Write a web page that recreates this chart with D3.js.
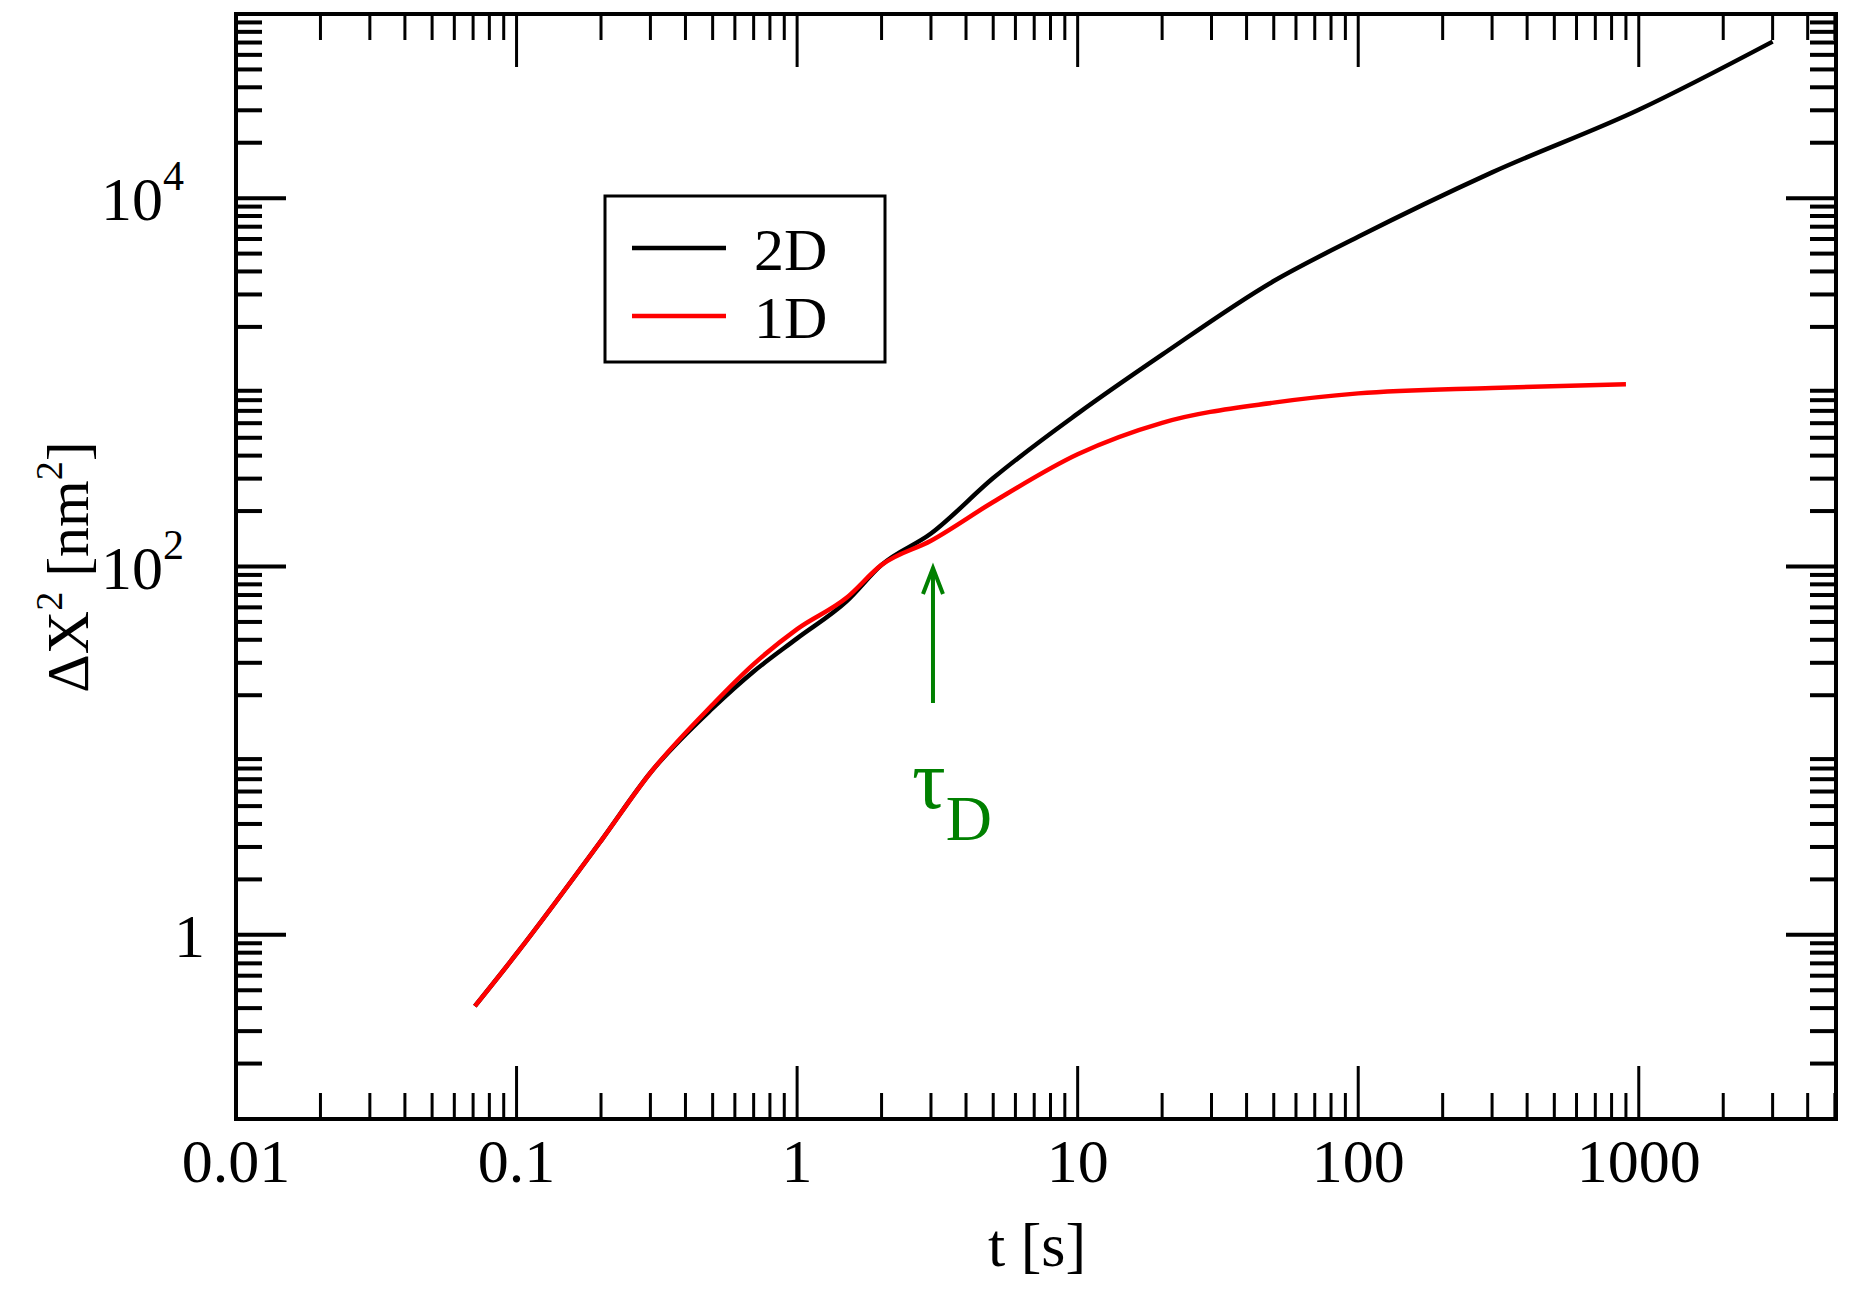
<!DOCTYPE html>
<html><head><meta charset="utf-8">
<script src="https://cdn.jsdelivr.net/npm/d3@7"></script>
<style>body{margin:0;background:#fff}text{font-family:"Liberation Serif","Times New Roman",serif}</style>
</head><body><svg id="c" width="1852" height="1290"></svg>
<script>
const xTickLabels=["0.01","0.1","1","10","100","1000"];
const yTickValues=[1,100,10000];
const t2D=[0.071,0.1,0.2,0.3,0.5,0.7,1,1.5,2,3,5,10,20,50,100,300,1000,3000];
const msd2D=[0.41,0.79,3.24,7.59,17.0,26.9,40.7,64.6,102,151,302,676,1413,3548,6166,13800,30200,70800];
const t1D=[0.071,0.1,0.2,0.3,0.5,0.7,1,1.5,2,3,5,10,20,50,100,300,900];
const msd1D=[0.41,0.79,3.24,7.59,17.8,29.5,45.7,67.6,102,138,224,407,603,776,871,933,977];
const legendLabels=["2D","1D"];
const colors=["#000000","#ff0000"];

const svg=d3.select("#c");
const L=236,R=1836,T=14,B=1119;
const x=d3.scaleLog().domain([0.01,Math.pow(10,3.703)]).range([L,R]);
const y=d3.scaleLog().domain([0.1,1e5]).range([B,T]);
const g=svg.append("g");
const xMinor=[],yMinor=[];
for(let e=-2;e<=3;e++)for(let k=2;k<=9;k++){const v=k*Math.pow(10,e);if(v<=x.domain()[1])xMinor.push(v);}
for(let e=-1;e<=4;e++)for(let k=2;k<=9;k++)yMinor.push(k*Math.pow(10,e));
const xMajor=[0.01,0.1,1,10,100,1000];
const sw=4;
function tick(x1,y1,x2,y2,w){g.append("line").attr("x1",x1).attr("y1",y1).attr("x2",x2).attr("y2",y2).attr("stroke","#000").attr("stroke-width",w);}
xMinor.forEach(v=>{const p=x(v);tick(p,B,p,B-26,3);tick(p,T,p,T+26,3);});
xMajor.forEach(v=>{const p=x(v);tick(p,B,p,B-53,3);tick(p,T,p,T+53,3);});
yMinor.forEach(v=>{const p=y(v);tick(L,p,L+26,p,sw);tick(R,p,R-26,p,sw);});
yTickValues.forEach(v=>{const p=y(v);tick(L,p,L+50,p,sw);tick(R,p,R-50,p,sw);});
const line=d3.line().x(d=>x(d[0])).y(d=>y(d[1])).curve(d3.curveMonotoneX);
g.append("path").attr("d",line(t2D.map((t,i)=>[t,msd2D[i]]))).attr("fill","none").attr("stroke",colors[0]).attr("stroke-width",4.5);
g.append("path").attr("d",line(t1D.map((t,i)=>[t,msd1D[i]]))).attr("fill","none").attr("stroke",colors[1]).attr("stroke-width",4.5);
g.append("rect").attr("x",L).attr("y",T).attr("width",R-L).attr("height",B-T).attr("fill","none").attr("stroke","#000").attr("stroke-width",sw);
xMajor.forEach((v,i)=>g.append("text").attr("x",x(v)).attr("y",1182).attr("text-anchor","middle").attr("font-size",62).text(xTickLabels[i]));
const yl=[["1",""],["10","2"],["10","4"]];
yTickValues.forEach((v,i)=>{const tx=g.append("text").attr("x",yl[i][1]?184:205).attr("y",y(v)+22).attr("text-anchor","end").attr("font-size",62);
 tx.append("tspan").text(yl[i][0]); if(yl[i][1]) tx.append("tspan").attr("dy",-30).attr("font-size",42).text(yl[i][1]);});
g.append("text").attr("x",1037).attr("y",1266).attr("text-anchor","middle").attr("font-size",62).text("t [s]");
const yt=g.append("text").attr("transform","translate(88,567) rotate(-90)").attr("text-anchor","middle").attr("font-size",60);
yt.append("tspan").text("ΔX");yt.append("tspan").attr("dy",-26).attr("font-size",38).text("2");
yt.append("tspan").attr("dy",26).text(" [nm");yt.append("tspan").attr("dy",-26).attr("font-size",38).text("2");
yt.append("tspan").attr("dy",26).text("]");
g.append("rect").attr("x",605).attr("y",196).attr("width",280).attr("height",166).attr("fill","#fff").attr("stroke","#000").attr("stroke-width",3);
legendLabels.forEach((s,i)=>{const yy=248+i*68;
 g.append("line").attr("x1",632).attr("x2",726).attr("y1",yy).attr("y2",yy).attr("stroke",colors[i]).attr("stroke-width",4.5);
 g.append("text").attr("x",754).attr("y",yy+22).attr("font-size",60).text(s);});
const ax=x(3.05);
g.append("line").attr("x1",ax).attr("x2",ax).attr("y1",703).attr("y2",570).attr("stroke","#008000").attr("stroke-width",4);
g.append("path").attr("d",`M${ax-10},${594} L${ax},${568} L${ax+10},${594}`).attr("fill","none").attr("stroke","#008000").attr("stroke-width",4);
const tt=g.append("text").attr("x",912).attr("y",808).attr("fill","#008000").attr("font-size",84);
tt.append("tspan").text("τ");tt.append("tspan").attr("dy",32).attr("font-size",64).text("D");
</script></body></html>
